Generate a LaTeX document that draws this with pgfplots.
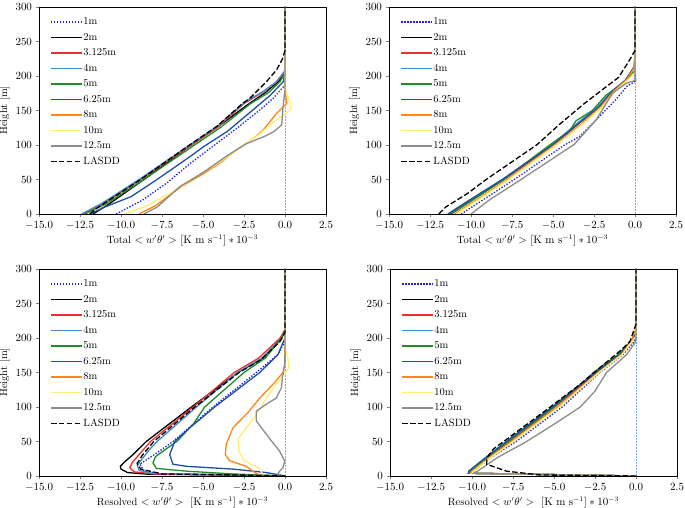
\documentclass[border=0pt]{standalone}
\usepackage{pgfplots}
\pgfplotsset{compat=1.18}

\definecolor{cOne}{RGB}{35,35,225}
\definecolor{cRed}{RGB}{232,50,50}
\definecolor{cFour}{RGB}{70,140,205}
\definecolor{cGreen}{RGB}{30,140,40}
\definecolor{cSix}{RGB}{30,80,160}
\definecolor{cOrange}{RGB}{255,135,25}
\definecolor{cYellow}{RGB}{255,238,115}
\definecolor{cGrey}{RGB}{140,140,140}

\pgfplotsset{
  panel/.style={
    width=287pt, height=207pt, scale only axis,
    xmin=-15, xmax=2.5, ymin=0, ymax=300,
    xtick={-15,-12.5,-10,-7.5,-5,-2.5,0,2.5},
    ytick={0,50,100,150,200,250,300},
    xticklabel style={/pgf/number format/.cd, fixed, fixed zerofill, precision=1},
    tick label style={font=\fontsize{10.5}{12}\selectfont},
    label style={font=\fontsize{10.5}{12}\selectfont},
    tick align=outside, xtick pos=left, ytick pos=left,
    major tick length=3.5pt,
    ylabel={Height [m]},
    ylabel style={yshift=-1pt},
    xlabel style={yshift=1pt},
    legend cell align=left,
    legend style={draw=none, fill=none, at={(0.035,0.962)}, anchor=north west,
      row sep=3.5pt, inner sep=1pt, font=\fontsize{10.5}{12}\selectfont,
      nodes={text height=7.5pt, text depth=2.5pt, inner sep=1pt}},
    legend image code/.code={%
      \draw[line width=1.7pt] (0cm,0cm) -- (0.8cm,0cm);
      \path (0cm,0cm) -- (1.08cm,0cm);},
  },
  s1/.style={cOne, line width=1.3pt, dash pattern=on 1.4pt off 1.6pt},
  s2/.style={black, line width=1.3pt},
  s3/.style={cRed, line width=1.3pt},
  s4/.style={cFour, line width=1.3pt},
  s5/.style={cGreen, line width=1.3pt},
  s6/.style={cSix, line width=1.3pt},
  s8/.style={cOrange, line width=1.3pt},
  s10/.style={cYellow, line width=1.3pt},
  s12/.style={cGrey, line width=1.3pt},
  sL/.style={black, line width=1.3pt, dash pattern=on 5.5pt off 2.4pt},
  zline/.style={cFour!70, line width=0.5pt, densely dotted},
}

\begin{document}
\begin{tikzpicture}
\path[use as bounding box] (0,0) rectangle (685pt,508pt);

% ---------------- top left: total, first set
\begin{axis}[panel, at={(39pt,294pt)}, anchor=south west,
  xlabel={Total $<w'\theta'>$ $\left[\mathrm{K\ m\ s^{-1}}\right]*10^{-3}$}]
\addplot[zline, forget plot] coordinates {(0,0) (0,300)};
\addplot[s1] coordinates {(-10.3,0) (-8.7,20) (-7.2,45) (-5.8,73) (-4.57,95) (-3.0,123) (-1.52,151) (-0.71,168) (0,187) (0,300)};
\addplot[s2] coordinates {(-11.7,0) (-10.7,15) (-8.6,50) (-5.9,97) (-4.0,128) (-2.3,158) (-1.2,176) (-0.4,192) (0,205) (0,300)};
\addplot[s3] coordinates {(-12.3,0) (-11.1,15) (-8.8,50) (-5.9,97) (-4.1,126) (-2.5,160) (-1.4,176) (-0.6,190) (0,206) (0,300)};
\addplot[s4] coordinates {(-12.4,0) (-11.2,15) (-8.9,50) (-6.0,97) (-4.2,126) (-2.4,163) (-1.3,178) (-0.5,192) (0,208) (0,300)};
\addplot[s5] coordinates {(-12.2,0) (-10.9,15) (-8.6,50) (-5.7,97) (-3.9,126) (-2.1,160) (-1.0,176) (-0.3,192) (0,204) (0,300)};
\addplot[s6] coordinates {(-11.9,0) (-11.0,10) (-9.4,25) (-7.8,50) (-5.8,83) (-5.0,97) (-3.5,120) (-2.1,148) (-0.9,172) (-0.1,192) (0,205) (0,300)};
\addplot[s8] coordinates {(-8.9,0) (-7.9,12) (-6.3,40) (-5.0,58) (-3.9,75) (-2.95,93) (-1.9,110) (-1.32,122) (-0.51,146) (0.1,160) (0.05,172) (0,185) (0,300)};
\addplot[s10] coordinates {(-9.8,0) (-8.6,10) (-7.0,30) (-5.7,50) (-4.0,75) (-2.8,95) (-1.6,115) (-0.6,135) (0.3,150) (0.35,160) (0.1,175) (0,185) (0,300)};
\addplot[s12] coordinates {(-8.6,0) (-7.8,10) (-6.4,40) (-5.0,60) (-3.5,85) (-2.34,102) (-1.2,113) (-0.71,119) (-0.2,129) (-0.15,145) (-0.1,160) (0,180) (0,300)};
\addplot[sL] coordinates {(-11.9,0) (-11.5,8) (-8.8,50) (-6.0,97) (-4.1,128) (-2.6,160) (-2.13,168) (-1.12,192) (-0.51,209) (-0.15,225) (0,237) (0,300)};
\legend{1m,2m,3.125m,4m,5m,6.25m,8m,10m,12.5m,LASDD}
\end{axis}

% ---------------- top right: total, second set
\begin{axis}[panel, at={(389pt,294pt)}, anchor=south west,
  xlabel={Total $<w'\theta'>$ $\left[\mathrm{K\ m\ s^{-1}}\right]*10^{-3}$}]
\addplot[zline, forget plot] coordinates {(0,0) (0,300)};
\addplot[s1] coordinates {(-10.6,0) (-9.3,20) (-7.36,50) (-4.3,100) (-3.4,112) (-2.18,141) (-1.2,165) (-0.5,185) (0,192) (0,300)};
\addplot[s2] coordinates {(-11.3,0) (-10.0,20) (-8.0,50) (-5.0,100) (-3.5,130) (-2.2,155) (-1.37,178) (-0.56,194) (-0.16,209) (0,212) (0,300)};
\addplot[s3] coordinates {(-11.3,0) (-10.0,20) (-8.0,50) (-5.0,100) (-3.5,130) (-2.2,155) (-1.37,178) (-0.56,194) (-0.1,212) (0,220) (0,300)};
\addplot[s4] coordinates {(-11.4,0) (-10.1,20) (-8.1,50) (-5.1,100) (-3.6,130) (-2.3,155) (-1.4,178) (-0.6,194) (-0.16,209) (0,212) (0,300)};
\addplot[s5] coordinates {(-11.2,0) (-9.9,20) (-8.0,50) (-5.2,100) (-4.0,120) (-3.6,135) (-2.6,150) (-1.77,172) (-0.5,194) (0,208) (0,300)};
\addplot[s6] coordinates {(-11.4,0) (-10.1,20) (-8.07,50) (-5.03,100) (-3.5,130) (-2.2,155) (-1.37,178) (-0.56,194) (-0.16,209) (0,212) (0,300)};
\addplot[s8] coordinates {(-11.0,0) (-9.7,20) (-7.8,50) (-4.9,100) (-3.3,130) (-2.1,155) (-1.3,178) (-0.5,195) (-0.1,210) (0,230) (0,300)};
\addplot[s10] coordinates {(-10.9,0) (-9.6,20) (-7.7,50) (-4.8,100) (-3.2,130) (-2.0,155) (-1.2,178) (-0.45,194) (0,205) (0,300)};
\addplot[s12] coordinates {(-10.0,0) (-8.9,20) (-6.95,50) (-3.7,101) (-2.38,136) (-1.37,175) (-0.56,189) (0.05,194) (0,200) (0,300)};
\addplot[sL] coordinates {(-11.96,0) (-11.55,10) (-10.2,30) (-9.08,50) (-6.0,100) (-4.6,130) (-3.2,158) (-2.0,180) (-1.0,198) (-0.36,222) (0,237) (0,300)};
\legend{1m,2m,3.125m,4m,5m,6.25m,8m,10m,12.5m,LASDD}
\end{axis}

% ---------------- bottom left: resolved, first set
\begin{axis}[panel, at={(39pt,32pt)}, anchor=south west,
  xlabel={Resolved $<w'\theta'>$ \ $\left[\mathrm{K\ m\ s^{-1}}\right]*10^{-3}$}]
\addplot[zline, forget plot] coordinates {(0,0) (0,300)};
\addplot[s1] coordinates {(0,0) (-3,1.5) (-7.5,2.5) (-8.6,8) (-8.86,17) (-7.9,32) (-6.83,50) (-4.39,100) (-1.75,150) (-0.43,176) (-0.12,190) (0,200) (0,300)};
\addplot[s2] coordinates {(0,0) (-3,1.5) (-8.3,2.5) (-9.6,5) (-10.0,10) (-10.04,14) (-9.8,20) (-9.27,31) (-8.46,50) (-5.71,100) (-2.87,150) (-1.34,171) (-0.22,200) (0,212) (0,300)};
\addplot[s3] coordinates {(0,0) (-3,1.5) (-8,3) (-9.2,6) (-9.47,12) (-9.3,20) (-8.9,31) (-8.2,50) (-5.6,100) (-3.1,150) (-1.6,171) (-0.3,200) (0,212) (0,300)};
\addplot[s4] coordinates {(0,0) (-3,2) (-8,3.5) (-8.9,8) (-9.0,15) (-8.8,22) (-8.2,40) (-7.8,50) (-5.4,100) (-2.9,150) (-1.4,171) (-0.2,200) (0,210) (0,300)};
\addplot[s5] coordinates {(0,0) (-3.2,3) (-6.0,7) (-7.85,11) (-8.05,19) (-7.9,28) (-7.2,40) (-6.6,50) (-5.6,75) (-4.9,100) (-2.5,150) (-1.2,171) (-0.2,200) (0,210) (0,300)};
\addplot[s6] coordinates {(0,0) (-1.14,5) (-3.17,10) (-6.0,14) (-6.83,17) (-7.03,31) (-6.73,50) (-5.8,70) (-4.29,100) (-1.54,150) (-0.43,176) (0,200) (0,300)};
\addplot[s8] coordinates {(-1.5,0) (-1.54,1.5) (-1.85,5) (-2.36,14) (-3.37,22) (-3.64,31) (-3.58,46) (-3.17,70) (-2.26,92) (-1.54,113) (-0.73,133) (-0.12,150) (0,162) (0,300)};
\addplot[s10] coordinates {(-1.14,0) (-1.34,3) (-1.65,12) (-2.56,24) (-2.8,36) (-2.87,53) (-2.36,70) (-1.65,92) (-1.14,113) (-0.53,133) (0.24,157) (0.18,171) (0,186) (0,300)};
\addplot[s12] coordinates {(-0.2,0) (-0.43,3) (-0.33,7) (-0.12,12) (-0.02,22) (-0.33,36) (-0.83,51) (-1.44,70) (-1.75,80) (-1.75,94) (-1.14,104) (-0.53,113) (-0.22,128) (-0.16,142) (-0.02,162) (0,180) (0,300)};
\addplot[sL] coordinates {(0,0) (-3,1.5) (-7.5,3) (-8.8,10) (-9.02,18) (-8.7,30) (-8.0,50) (-5.5,100) (-2.8,150) (-1.5,168) (-0.3,195) (0,208) (0,300)};
\legend{1m,2m,3.125m,4m,5m,6.25m,8m,10m,12.5m,LASDD}
\end{axis}

% ---------------- bottom right: resolved, second set
\begin{axis}[panel, at={(390pt,32pt)}, anchor=south west,
  xlabel={Resolved $<w'\theta'>$ \ $\left[\mathrm{K\ m\ s^{-1}}\right]*10^{-3}$}]
\addplot[zline, forget plot] coordinates {(0,0) (0,300)};
\addplot[s1] coordinates {(0,0) (-9.9,4) (-9.9,7) (-8.9,26) (-7.3,50) (-4.5,100) (-2.2,150) (-0.8,176) (-0.2,192) (0,200) (0,300)};
\addplot[s2] coordinates {(0,0) (-10.2,4) (-10.1,7) (-9.1,26) (-7.8,50) (-5.04,100) (-2.4,150) (-0.98,176) (-0.37,193) (0,205) (0,300)};
\addplot[s3] coordinates {(0,0) (-10.2,4) (-10.1,7) (-9.1,26) (-7.7,50) (-4.95,100) (-2.35,150) (-0.95,176) (-0.3,193) (0,205) (0,300)};
\addplot[s4] coordinates {(0,0) (-10.2,4) (-10.2,7) (-9.2,26) (-7.9,50) (-5.1,100) (-2.5,150) (-1.0,176) (-0.37,193) (0,205) (0,300)};
\addplot[s5] coordinates {(0,0) (-10.2,4) (-10.1,7) (-9.1,26) (-7.8,50) (-5.0,100) (-3.6,128) (-3.0,140) (-2.6,150) (-1.1,176) (-0.4,193) (0,205) (0,300)};
\addplot[s6] coordinates {(0,0) (-10.2,4) (-10.2,7) (-9.2,26) (-7.9,50) (-5.1,100) (-2.45,150) (-1.0,176) (-0.37,193) (0,207) (0,300)};
\addplot[s8] coordinates {(0,0) (-10.1,4) (-10.0,7) (-9.0,26) (-7.6,50) (-4.8,100) (-2.3,150) (-0.9,176) (-0.35,193) (-0.05,210) (0,230) (0,300)};
\addplot[s10] coordinates {(0,0) (-10.0,4) (-9.9,7) (-8.9,26) (-7.5,50) (-4.7,100) (-2.25,150) (-0.85,176) (-0.3,193) (0,203) (0,300)};
\addplot[s12] coordinates {(0,0) (-9.9,4) (-9.6,8) (-8.5,26) (-6.67,50) (-5.0,75) (-3.4,100) (-2.5,123) (-1.8,150) (-0.57,176) (-0.06,193) (0,200) (0,300)};
\addplot[sL] coordinates {(0,0) (-5.85,1.5) (-7.9,7) (-9.1,17) (-9.1,26) (-8.7,39) (-7.5,60) (-5.45,96) (-3.4,133) (-2.2,157) (-0.98,181) (-0.37,195) (0,220) (0,300)};
\legend{1m,2m,3.125m,4m,5m,6.25m,8m,10m,12.5m,LASDD}
\end{axis}
\end{tikzpicture}
\end{document}
